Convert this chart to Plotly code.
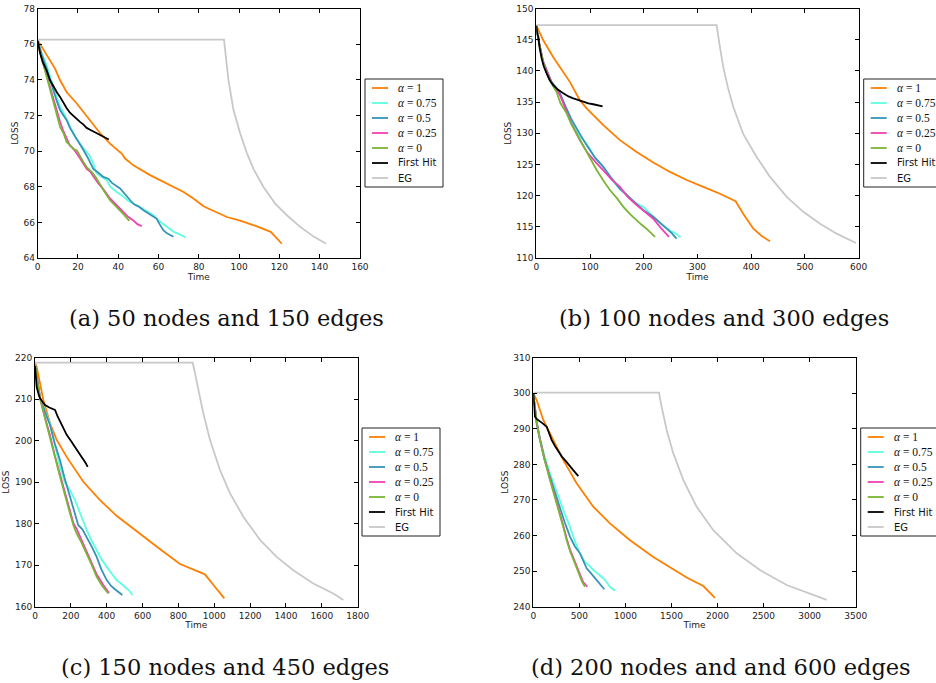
import plotly.graph_objects as go

# ---------------- Panel (a): 50 nodes, 150 edges ----------------
a_t_a1 = [0, 4.5, 8.6, 11, 14.4, 19.4, 25.2, 31, 35.9, 41.7, 43.4, 47.5, 55.8, 64.1, 72.4, 77.3, 82.3, 93.9, 100.5, 107, 113.7, 115.7, 121.2]
a_l_a1 = [76.22, 75.4, 74.63, 74.0, 73.3, 72.67, 71.83, 71.0, 70.42, 69.86, 69.58, 69.2, 68.65, 68.18, 67.7, 67.34, 66.9, 66.3, 66.1, 65.85, 65.56, 65.47, 64.8]
a_t_a075 = [0, 2, 4.5, 6, 7.8, 9.5, 11.1, 13, 15, 17.7, 19.4, 21, 22.6, 24.3, 26, 27.6, 29, 31, 34.3, 36, 39.2, 42, 45, 47.5, 50, 53, 57.5, 60, 63, 67.4, 70, 73.5]
a_l_a075 = [76.2, 75.5, 74.8, 74.2, 73.6, 73.0, 72.5, 72.1, 71.6, 71.0, 70.65, 70.4, 70.15, 69.95, 69.7, 69.3, 68.8, 68.6, 68.37, 68.0, 67.7, 67.5, 67.2, 67.06, 66.9, 66.7, 66.4, 66.1, 65.85, 65.47, 65.35, 65.15]
a_t_a05 = [0, 2, 4.5, 6, 7.8, 9.5, 11.1, 12.8, 14.4, 16, 17.7, 19.4, 21, 23, 25, 27.6, 30, 32.6, 35, 37, 40.9, 43, 45.9, 48, 50, 52.5, 55, 57, 59.1, 60.5, 62.4, 64, 66, 67.4]
a_l_a05 = [76.2, 75.4, 74.6, 74.0, 73.4, 72.8, 72.3, 72.0, 71.73, 71.3, 71.0, 70.7, 70.42, 70.0, 69.6, 69.0, 68.8, 68.55, 68.45, 68.2, 67.9, 67.6, 67.24, 67.0, 66.9, 66.68, 66.5, 66.35, 66.2, 65.9, 65.56, 65.4, 65.3, 65.19]
a_t_a025 = [0, 1, 2.5, 4.5, 6, 7.8, 9.5, 11.1, 12.8, 14.4, 16, 17.7, 19.4, 21, 22.6, 24.3, 26, 28, 30, 33, 35.9, 38, 40.9, 43, 45, 47.5, 49.5, 51.7]
a_l_a025 = [76.2, 75.6, 75.0, 74.2, 73.6, 72.95, 72.3, 71.64, 71.1, 70.7, 70.3, 70.15, 69.9, 69.6, 69.3, 69.0, 68.85, 68.5, 68.2, 67.8, 67.34, 67.1, 66.78, 66.5, 66.3, 66.1, 65.9, 65.78]
a_t_a0 = [0, 1, 2.5, 4.5, 6, 7.8, 9.5, 11.1, 12.8, 14.4, 16, 17.7, 19.4, 21, 22.6, 24.3, 27, 29, 31, 33, 35.9, 38, 40.9, 43, 45.5]
a_l_a0 = [76.2, 75.6, 75.0, 74.17, 73.5, 72.86, 72.1, 71.36, 71.0, 70.5, 70.35, 70.1, 70.05, 69.7, 69.4, 69.1, 68.8, 68.5, 68.1, 67.75, 67.24, 67.0, 66.68, 66.4, 66.08]
a_t_fh = [0, 1.2, 2.5, 4.5, 6, 7.8, 9.5, 11.1, 12.8, 14.4, 16, 17.7, 19.4, 21, 22.6, 24.3, 26, 29.3, 32, 35.3]
a_l_fh = [76.2, 75.5, 75.0, 74.5, 74.0, 73.6, 73.3, 73.04, 72.7, 72.4, 72.15, 71.96, 71.8, 71.64, 71.5, 71.3, 71.2, 71.0, 70.85, 70.65]
a_t_eg = [0, 92.5, 93.5, 94.7, 97.2, 100.5, 103.8, 107.1, 112, 117.9, 123.7, 130.3, 137, 143.2]
a_l_eg = [76.25, 76.25, 75.2, 73.98, 72.3, 71.0, 69.9, 69.0, 68.0, 67.05, 66.4, 65.75, 65.2, 64.8]

# ---------------- Panel (b): 100 nodes, 300 edges ----------------
b_t_a1 = [0, 13, 31.6, 62.7, 81, 93.7, 124.7, 155.7, 186.7, 217.7, 248.8, 279.8, 310.8, 341.8, 371, 385, 404, 420, 434.9]
b_l_a1 = [147.3, 144.9, 142.2, 138.2, 135.3, 134.0, 131.3, 128.9, 127.0, 125.3, 123.8, 122.5, 121.4, 120.3, 119.1, 117.1, 114.7, 113.5, 112.7]
b_t_a075 = [0, 5, 13, 20, 28, 37.8, 44, 55, 65, 81, 93.7, 110, 124.7, 140, 155.7, 168, 180, 199, 214.7, 230, 248.8, 260, 268.6]
b_l_a075 = [147.3, 144.6, 141.4, 139.8, 138.3, 137.2, 136.4, 134.0, 132.0, 129.5, 128.3, 126.0, 124.6, 122.6, 121.0, 120.1, 119.0, 118.2, 116.8, 115.6, 114.4, 113.9, 113.3]
b_t_a05 = [0, 5, 13, 20, 28, 37.8, 44, 55, 65, 81, 95, 110, 124.7, 140, 155.7, 170, 186.7, 200, 217.7, 230, 242.6, 252, 261]
b_l_a05 = [147.3, 144.6, 141.4, 139.8, 138.3, 137.2, 136.4, 134.2, 132.3, 129.9, 127.9, 126.0, 124.6, 122.8, 121.1, 120.0, 118.7, 117.6, 116.6, 115.6, 114.7, 114.0, 113.1]
b_t_a025 = [0, 5, 13, 20, 28, 37.8, 44, 55, 65, 81, 95, 110, 124.7, 140, 155.7, 170, 186.7, 200, 217.7, 232, 247]
b_l_a025 = [147.3, 144.6, 141.4, 139.8, 138.2, 137.0, 136.1, 133.8, 131.6, 128.9, 126.9, 125.4, 124.1, 122.6, 121.4, 119.8, 118.5, 117.5, 116.3, 114.8, 113.4]
b_t_a0 = [0, 5, 13, 20, 28, 37.8, 45, 56.5, 65, 75, 85, 93.7, 103, 112.3, 125, 137, 150, 162, 175, 186.7, 195, 205, 213, 221]
b_l_a0 = [147.3, 144.5, 141.2, 139.5, 138.0, 136.6, 134.8, 133.2, 131.5, 129.9, 128.5, 127.0, 125.4, 124.1, 122.4, 120.9, 119.6, 118.2, 117.0, 116.0, 115.4, 114.7, 114.0, 113.4]
b_t_fh = [0, 1, 2, 3.7, 6, 9.9, 14, 19.2, 25, 31.6, 40, 50.2, 60, 68.9, 78, 87.5, 97, 106, 115, 123.4]
b_l_fh = [147.3, 146.2, 145.8, 145.5, 143.8, 142.0, 140.7, 139.6, 138.5, 137.7, 137.0, 136.4, 135.9, 135.6, 135.3, 135.0, 134.8, 134.65, 134.45, 134.3]
b_t_eg = [0, 335.6, 341, 348, 357, 366.6, 385, 410, 435, 466, 497, 528, 559, 595]
b_l_eg = [147.33, 147.33, 144.2, 140.6, 137.2, 134.2, 129.9, 126.2, 123.0, 119.8, 117.4, 115.5, 113.9, 112.4]

# ---------------- Panel (c): 150 nodes, 450 edges ----------------
c_t_a1 = [0, 9.3, 46.5, 83.7, 121, 176.6, 269.6, 362.6, 455, 604, 700, 809, 880, 948, 1000, 1056]
c_l_a1 = [218.6, 217.8, 209.8, 204.2, 200.2, 196.1, 190.1, 185.7, 181.9, 176.9, 173.8, 170.3, 169.0, 167.8, 165.0, 162.0]
c_t_a075 = [0, 28, 55, 83.7, 110, 139.5, 165, 195, 220, 251, 270, 288, 315, 344, 370, 400, 425, 455, 480, 502, 525, 544]
c_l_a075 = [218.5, 210.5, 207.3, 204.2, 199.0, 193.7, 190.0, 188.1, 186.0, 182.5, 180.3, 178.5, 176.0, 173.7, 171.5, 169.6, 168.0, 166.4, 165.6, 164.8, 163.9, 162.8]
c_t_a05 = [0, 28, 55, 83.7, 110, 139.5, 165, 195, 220, 241, 265, 288, 315, 344, 370, 400, 425, 446, 465, 487]
c_l_a05 = [218.5, 210.4, 207.0, 203.8, 199.4, 195.3, 191.0, 186.5, 182.5, 179.7, 178.6, 176.9, 174.6, 172.0, 169.0, 166.4, 165.0, 164.2, 163.6, 162.8]
c_t_a025 = [0, 28, 55, 83.7, 110, 139.5, 165, 195, 215, 232, 260, 288, 315, 344, 380, 413]
c_l_a025 = [218.5, 210.3, 205.7, 201.3, 196.5, 191.7, 187.5, 183.3, 180.0, 178.8, 176.0, 173.6, 170.8, 167.8, 165.3, 163.3]
c_t_a0 = [0, 28, 55, 83.7, 110, 139.5, 165, 195, 215, 232, 260, 288, 315, 344, 375, 409]
c_l_a0 = [218.5, 210.2, 205.5, 201.0, 196.3, 191.3, 187.0, 182.5, 179.5, 177.7, 175.4, 172.9, 170.2, 167.2, 165.0, 163.2]
c_t_fh = [0, 5, 9.3, 20, 28, 45, 56, 80, 111.6, 125, 139.5, 160, 176.6, 200, 223, 245, 260, 280, 294]
c_l_fh = [218.0, 214.5, 213.0, 211.2, 210.2, 209.2, 208.6, 208.0, 207.4, 206.0, 204.6, 202.8, 201.4, 200.0, 198.6, 197.2, 196.1, 194.8, 193.7]
c_t_eg = [0, 879.5, 890, 901.7, 920, 939, 976, 1032, 1088, 1162, 1255, 1348, 1441, 1552, 1664, 1720]
c_l_eg = [218.8, 218.8, 216.8, 214.6, 210.5, 206.6, 200.2, 192.9, 187.3, 181.7, 176.1, 172.0, 168.8, 165.6, 163.2, 161.6]

# ---------------- Panel (d): 200 nodes, 600 edges ----------------
d_t_a1 = [0, 36, 108.6, 217, 326, 470, 651, 832, 1050, 1303, 1484, 1665, 1846, 1972]
d_l_a1 = [300.0, 298.1, 292.5, 286.9, 281.2, 274.7, 268.1, 263.4, 258.7, 254.0, 251.2, 248.2, 245.8, 242.5]
d_t_a075 = [0, 36, 72, 120, 181, 235, 290, 340, 398, 450, 507, 560, 610, 651, 700, 760, 800, 832, 887]
d_l_a075 = [300.0, 292.0, 287.5, 282.5, 277.5, 273.5, 270.0, 266.2, 262.5, 258.5, 255.0, 252.6, 251.5, 250.3, 249.3, 248.0, 246.8, 245.6, 244.5]
d_t_a05 = [0, 36, 72, 120, 181, 235, 290, 340, 398, 450, 507, 540, 579, 620, 670, 720, 771]
d_l_a05 = [300.0, 291.5, 287.0, 281.6, 276.5, 272.0, 268.1, 263.8, 259.7, 257.0, 255.0, 253.0, 250.8, 249.6, 248.0, 246.5, 244.9]
d_t_a025 = [0, 36, 72, 120, 181, 235, 290, 330, 362, 400, 452, 500, 540, 586]
d_l_a025 = [300.0, 292.0, 287.1, 281.8, 276.0, 271.2, 266.6, 262.4, 259.2, 256.0, 252.6, 249.4, 247.0, 245.6]
d_t_a0 = [0, 36, 72, 120, 181, 235, 290, 330, 362, 400, 452, 500, 530, 561]
d_l_a0 = [300.0, 292.0, 286.9, 281.5, 275.6, 270.8, 266.2, 262.0, 258.7, 255.5, 252.2, 248.8, 247.0, 245.6]
d_t_fh = [0, 10, 18, 36, 54, 80, 108.6, 145, 170, 199, 235, 271, 310, 344, 370, 398, 440, 489]
d_l_fh = [300.0, 295.5, 293.4, 292.8, 292.5, 292.0, 291.4, 290.6, 288.8, 286.9, 285.2, 283.6, 282.2, 281.2, 280.3, 279.4, 278.2, 276.7]
d_t_eg = [0, 1364, 1393, 1448, 1520, 1629, 1773, 1954, 2208, 2461, 2751, 3040, 3185]
d_l_eg = [300.2, 300.2, 296.2, 289.7, 283.1, 275.6, 268.1, 261.5, 255.0, 250.3, 246.1, 243.3, 241.9]

SERIES_NAMES = ["α = 1", "α = 0.75", "α = 0.5", "α = 0.25", "α = 0", "First Hit", "EG"]
COLORS = ["#FF7F00", "#5CFFDE", "#3793B8", "#F040B4", "#7AB536", "#000000", "#C8C8C8"]

CAPTIONS = ["(a) 50 nodes and 150 edges", "(b) 100 nodes and 300 edges",
            "(c) 150 nodes and 450 edges", "(d) 200 nodes and and 600 edges"]

X_RANGES = [(0, 160), (0, 600), (0, 1800), (0, 3500)]
X_DTICKS = [20, 100, 200, 500]
Y_RANGES = [(64, 78), (110, 150), (160, 220), (240, 310)]
Y_DTICKS = [2, 5, 10, 10]

panels = [
    [(a_t_a1, a_l_a1), (a_t_a075, a_l_a075), (a_t_a05, a_l_a05), (a_t_a025, a_l_a025), (a_t_a0, a_l_a0), (a_t_fh, a_l_fh), (a_t_eg, a_l_eg)],
    [(b_t_a1, b_l_a1), (b_t_a075, b_l_a075), (b_t_a05, b_l_a05), (b_t_a025, b_l_a025), (b_t_a0, b_l_a0), (b_t_fh, b_l_fh), (b_t_eg, b_l_eg)],
    [(c_t_a1, c_l_a1), (c_t_a075, c_l_a075), (c_t_a05, c_l_a05), (c_t_a025, c_l_a025), (c_t_a0, c_l_a0), (c_t_fh, c_l_fh), (c_t_eg, c_l_eg)],
    [(d_t_a1, d_l_a1), (d_t_a075, d_l_a075), (d_t_a05, d_l_a05), (d_t_a025, d_l_a025), (d_t_a0, d_l_a0), (d_t_fh, d_l_fh), (d_t_eg, d_l_eg)],
]

W, H = 936, 683
# plot-area pixel boxes (left, right, top, bottom)
boxes = [(37.7, 360.0, 8.5, 258.0), (536.3, 858.7, 8.5, 258.0),
         (35.0, 357.7, 357.7, 606.7), (533.3, 855.7, 357.7, 606.7)]
legend_pos = [(365, 79), (863.7, 79), (362, 428), (860.7, 428)]
LEG_W, LEG_H, LEG_ROW, LEG_FIRST = 78, 108, 15, 9
caption_pos = [(226.5, 318), (724, 318), (225, 667), (721, 667)]


def px(x):
    return x / W


def py(y):
    return 1 - y / H


fig = go.Figure()
shapes = []
annotations = []
layout = dict(width=W, height=H, margin=dict(l=0, r=0, t=0, b=0),
              paper_bgcolor="white", plot_bgcolor="white", showlegend=False,
              font=dict(family="DejaVu Sans", size=9, color="#222"))

for p in range(4):
    sfx = "" if p == 0 else str(p + 1)
    for k, (tt, ll) in enumerate(panels[p]):
        fig.add_trace(go.Scatter(
            x=tt, y=ll, mode="lines", name=SERIES_NAMES[k],
            line=dict(color=COLORS[k], width=1.8),
            xaxis="x" + sfx, yaxis="y" + sfx, showlegend=False))
    l, r, t, b = boxes[p]
    common = dict(showline=True, mirror="allticks", linecolor="#000", linewidth=1,
                  ticks="inside", ticklen=4, tickcolor="#000", tickwidth=1,
                  showgrid=False, zeroline=False, automargin=False,
                  tickfont=dict(family="DejaVu Sans", size=9, color="#222"))
    layout["xaxis" + sfx] = dict(domain=[px(l), px(r)], anchor="y" + sfx,
                                 range=list(X_RANGES[p]), dtick=X_DTICKS[p], tick0=0,
                                 title=dict(text="Time", standoff=2,
                                            font=dict(family="DejaVu Sans", size=9, color="#222")),
                                 **common)
    layout["yaxis" + sfx] = dict(domain=[py(b), py(t)], anchor="x" + sfx,
                                 range=list(Y_RANGES[p]), dtick=Y_DTICKS[p], tick0=0,
                                 title=dict(text="LOSS", standoff=3,
                                            font=dict(family="DejaVu Sans", size=9, color="#222")),
                                 **common)

    # legend box (drawn in paper space)
    lx, ly = legend_pos[p]
    shapes.append(dict(type="rect", xref="paper", yref="paper",
                       x0=px(lx), x1=px(lx + LEG_W), y0=py(ly + LEG_H), y1=py(ly),
                       line=dict(color="#222", width=1), fillcolor="white", layer="above"))
    for k, name in enumerate(SERIES_NAMES):
        ry = ly + LEG_FIRST + LEG_ROW * k
        shapes.append(dict(type="line", xref="paper", yref="paper",
                           x0=px(lx + 7), x1=px(lx + 23), y0=py(ry), y1=py(ry),
                           line=dict(color=COLORS[k], width=1.8), layer="above"))
        if name.startswith("α"):
            txt = "<i>α</i>" + name[1:]
            fnt = dict(family="Liberation Serif", size=11.5, color="#111")
        else:
            txt = name
            fnt = dict(family="DejaVu Sans", size=10, color="#111")
        annotations.append(dict(text=txt, x=px(lx + 31), y=py(ry), xref="paper", yref="paper",
                                xanchor="left", yanchor="middle", showarrow=False, font=fnt))

    cx, cy = caption_pos[p]
    annotations.append(dict(
        text=CAPTIONS[p], x=px(cx), y=py(cy), xref="paper", yref="paper",
        xanchor="center", yanchor="middle", showarrow=False,
        font=dict(family="DejaVu Serif", size=22.5, color="#111")))

layout["shapes"] = shapes
layout["annotations"] = annotations
fig.update_layout(**layout)
fig.write_html("out.html")
